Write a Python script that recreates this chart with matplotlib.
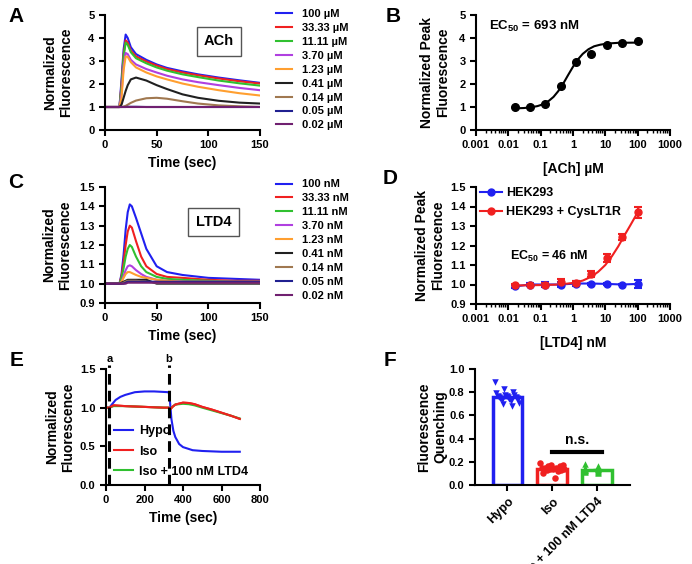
import numpy as np
import matplotlib
matplotlib.use("Agg")
import matplotlib.pyplot as plt
from matplotlib.ticker import LogLocator, FixedFormatter

plt.rcParams['font.family'] = ['Liberation Sans', 'DejaVu Sans']
plt.rcParams['font.weight'] = 'bold'
plt.rcParams['axes.labelweight'] = 'bold'
plt.rcParams['mathtext.fontset'] = 'custom'
plt.rcParams['mathtext.rm'] = 'Liberation Sans:bold'
plt.rcParams['mathtext.bf'] = 'Liberation Sans:bold'
plt.rcParams['axes.linewidth'] = 1.5

# ---- data ----
trace_colors = ['#2020f0', '#f02020', '#30c030', '#b040e0', '#ff9f30',
                '#202020', '#a07850', '#202090', '#702070']

# Panel A: ACh traces
ach_time = [0, 14, 16, 18, 20, 22, 25, 30, 40, 50, 60, 75, 90, 110, 130, 150]
ach_traces = [
    [1, 1, 2.2, 3.5, 4.15, 4.0, 3.6, 3.3, 3.05, 2.85, 2.7, 2.55, 2.42, 2.28, 2.16, 2.05],
    [1, 1, 2.0, 3.3, 3.9, 3.8, 3.45, 3.2, 2.98, 2.8, 2.65, 2.5, 2.38, 2.24, 2.12, 2.02],
    [1, 1, 1.9, 3.2, 3.8, 3.7, 3.38, 3.12, 2.9, 2.72, 2.58, 2.42, 2.3, 2.15, 2.03, 1.93],
    [1, 1, 1.6, 2.8, 3.35, 3.3, 3.05, 2.85, 2.65, 2.5, 2.36, 2.2, 2.08, 1.95, 1.83, 1.73],
    [1, 1, 1.4, 2.6, 3.2, 3.18, 2.95, 2.72, 2.5, 2.33, 2.2, 2.02, 1.88, 1.73, 1.6, 1.5],
    [1, 1, 1.1, 1.4, 1.7, 1.95, 2.2, 2.28, 2.15, 1.95, 1.78, 1.55, 1.4, 1.27, 1.19, 1.15],
    [1, 1, 1, 1.02, 1.05, 1.1, 1.18, 1.28, 1.38, 1.4, 1.36, 1.25, 1.15, 1.07, 1.03, 1.0],
    [1, 1, 1, 1.0, 1.0, 1.01, 1.01, 1.01, 1.0, 1.0, 1.0, 1.0, 1.0, 1.0, 1.0, 1.0],
    [1, 1, 1, 1.0, 1.0, 1.0, 1.0, 1.0, 1.0, 1.0, 1.0, 1.0, 1.0, 1.0, 1.0, 1.0],
]
ach_labels = ['100 µM', '33.33 µM', '11.11 µM', '3.70 µM', '1.23 µM',
              '0.41 µM', '0.14 µM', '0.05 µM', '0.02 µM']

# Panel B: ACh dose response
ach_conc = [0.0161, 0.046, 0.137, 0.412, 1.23, 3.70, 11.11, 33.33, 100]
ach_peak = [1.01, 1.0, 1.11, 1.91, 2.96, 3.29, 3.68, 3.8, 3.87]
ach_fit_x = [0.015, 0.03, 0.05, 0.08, 0.12, 0.18, 0.25, 0.35, 0.5, 0.7,
             1.0, 1.4, 2.0, 3.0, 4.5, 7, 12, 25, 50, 100]
ach_fit_y = [0.94, 0.955, 0.985, 1.04, 1.12, 1.27, 1.44, 1.69, 2.02, 2.38,
             2.75, 3.06, 3.31, 3.51, 3.64, 3.71, 3.76, 3.79, 3.795, 3.8]

# Panel C: LTD4 traces
ltd4_time = [0, 14, 16, 18, 20, 22, 24, 26, 30, 35, 40, 50, 60, 75, 100, 125, 150]
ltd4_traces = [
    [1, 1, 1.05, 1.15, 1.28, 1.37, 1.41, 1.40, 1.34, 1.26, 1.18, 1.09, 1.06, 1.045, 1.03, 1.025, 1.02],
    [1, 1, 1.04, 1.11, 1.2, 1.27, 1.30, 1.29, 1.22, 1.14, 1.09, 1.05, 1.035, 1.03, 1.02, 1.015, 1.015],
    [1, 1, 1.03, 1.08, 1.14, 1.18, 1.20, 1.19, 1.14, 1.09, 1.06, 1.035, 1.025, 1.02, 1.015, 1.01, 1.01],
    [1, 1, 1.01, 1.04, 1.07, 1.09, 1.095, 1.09, 1.07, 1.05, 1.035, 1.02, 1.015, 1.01, 1.01, 1.01, 1.01],
    [1, 1, 1.01, 1.03, 1.05, 1.06, 1.06, 1.055, 1.045, 1.035, 1.03, 1.02, 1.015, 1.01, 1.01, 1.01, 1.01],
    [1, 1, 1.005, 1.01, 1.015, 1.02, 1.02, 1.02, 1.02, 1.02, 1.02, 1.0, 1.0, 1.0, 1.0, 1.0, 1.0],
    [1, 1, 1.0, 1.005, 1.01, 1.015, 1.015, 1.015, 1.015, 1.012, 1.01, 1.005, 1.005, 1.005, 1.005, 1.005, 1.005],
    [1, 1, 1.0, 1.0, 1.005, 1.01, 1.01, 1.01, 1.01, 1.01, 1.01, 1.01, 1.01, 1.01, 1.01, 1.01, 1.01],
    [1, 1, 1.0, 1.0, 1.0, 1.005, 1.005, 1.005, 1.005, 1.005, 1.005, 1.005, 1.005, 1.005, 1.005, 1.005, 1.005],
]
ltd4_labels = ['100 nM', '33.33 nM', '11.11 nM', '3.70 nM', '1.23 nM',
               '0.41 nM', '0.14 nM', '0.05 nM', '0.02 nM']

# Panel D: LTD4 dose response
ltd4_conc = [0.0161, 0.046, 0.137, 0.412, 1.23, 3.70, 11.11, 33.33, 100]
hek_peak = [0.99, 1.0, 1.0, 1.0, 1.005, 1.005, 1.003, 1.0, 1.003]
hek_err = [0.01, 0.01, 0.015, 0.015, 0.015, 0.005, 0.005, 0.005, 0.02]
cys_peak = [1.0, 1.0, 1.0, 1.012, 1.01, 1.053, 1.137, 1.243, 1.37]
cys_err = [0.005, 0.005, 0.01, 0.015, 0.01, 0.015, 0.02, 0.015, 0.03]
cys_fit_x = [0.015, 0.1, 0.4, 1, 2, 3.7, 6, 10, 16, 25, 40, 60, 100]
cys_fit_y = [0.995, 0.997, 1.0, 1.008, 1.02, 1.04, 1.065, 1.1, 1.145, 1.195, 1.255, 1.305, 1.37]

# Panel E: volume traces
hypo_time = [0, 17, 30, 50, 75, 100, 150, 200, 250, 325, 330, 335, 340, 350, 360,
             380, 400, 450, 500, 600, 695]
hypo_vals = [1.0, 1.0, 1.04, 1.1, 1.14, 1.165, 1.2, 1.21, 1.21, 1.2, 1.15, 1.0, 0.85,
             0.7, 0.62, 0.53, 0.49, 0.45, 0.44, 0.43, 0.43]
iso_time = [0, 17, 40, 100, 200, 300, 325, 335, 345, 360, 400, 430, 460, 500, 550,
            600, 650, 695]
iso_vals = [1.0, 1.0, 1.03, 1.02, 1.01, 1.0, 1.0, 0.98, 1.01, 1.04, 1.065, 1.06, 1.045,
            1.01, 0.975, 0.935, 0.895, 0.855]
iso_ltd4_vals = [1.0, 1.0, 1.02, 1.02, 1.01, 1.0, 1.0, 0.99, 1.01, 1.04, 1.05, 1.045,
                 1.03, 1.0, 0.965, 0.93, 0.895, 0.86]
mark_times = [17, 327]
mark_labels = ['a', 'b']

# Panel F: quenching
groups = ['Hypo', 'Iso', 'Iso + 100 nM LTD4']
hypo_q = [0.89, 0.83, 0.80, 0.79, 0.78, 0.78, 0.77, 0.77, 0.76, 0.76, 0.76, 0.75,
          0.75, 0.74, 0.74, 0.73, 0.72, 0.71, 0.70, 0.68]
iso_q = [0.19, 0.17, 0.17, 0.16, 0.16, 0.15, 0.15, 0.15, 0.14, 0.14, 0.14, 0.13,
         0.13, 0.12, 0.10, 0.06]
iso_ltd4_q = [0.18, 0.16, 0.15, 0.14, 0.14, 0.14, 0.13, 0.13, 0.13, 0.12, 0.12,
              0.11, 0.11, 0.10]
group_colors = ['#2020f0', '#f02020', '#30c030']
group_markers = ['v', 'o', '^']

# ---- figure ----
W, H = 692, 564
fig = plt.figure(figsize=(W / 100, H / 100), dpi=100)


def px_axes(left, top, right, bottom):
    return fig.add_axes([left / W, 1 - bottom / H, (right - left) / W, (bottom - top) / H])


def style(ax):
    ax.spines['top'].set_visible(False)
    ax.spines['right'].set_visible(False)
    ax.tick_params(width=1.5, length=4, labelsize=8)
    ax.tick_params(which='minor', width=1.0, length=2.5)


def panel_letter(x, y, s):
    fig.text(x / W, 1 - y / H, s, fontsize=15, fontweight='bold', ha='center', va='center')


trace_legend = dict(loc='upper left', frameon=False, fontsize=8, handlelength=1.45,
                    handletextpad=0.9, labelspacing=0.35, borderpad=0, borderaxespad=0)

# A
axA = px_axes(105, 15, 260, 130)
style(axA)
for vals, c, lab in zip(ach_traces, trace_colors, ach_labels):
    axA.plot(ach_time, vals, color=c, lw=1.5, label=lab)
axA.set_xlim(0, 150)
axA.set_ylim(0, 5)
axA.set_xticks([0, 50, 100, 150])
axA.set_yticks([0, 1, 2, 3, 4, 5])
axA.set_xlabel('Time (sec)', fontsize=10)
axA.set_ylabel('Normalized\nFluorescence', fontsize=10)
axA.yaxis.set_label_coords(-0.206, 0.5)
axA.text(0.735, 0.77, 'ACh', transform=axA.transAxes, fontsize=10.5, ha='center', va='center',
         bbox=dict(boxstyle='square,pad=0.5', fc='white', ec='#555555', lw=1))
axA.legend(bbox_to_anchor=(1.103, 1.05), **trace_legend)

# B
axB = px_axes(476, 15, 670, 130)
style(axB)
axB.plot(ach_fit_x, ach_fit_y, color='black', lw=1.5)
axB.plot(ach_conc, ach_peak, 'o', color='black', ms=5.5)
axB.set_xscale('log')
axB.set_xlim(0.001, 1000)
axB.set_ylim(0, 5)
axB.set_xticks([0.001, 0.01, 0.1, 1, 10, 100, 1000])
axB.xaxis.set_major_formatter(FixedFormatter(['0.001', '0.01', '0.1', '1', '10', '100', '1000']))
axB.xaxis.set_minor_locator(LogLocator(base=10, subs=np.arange(2, 10)))
axB.set_yticks([0, 1, 2, 3, 4, 5])
axB.set_xlabel('[ACh] µM', fontsize=10, labelpad=8)
axB.set_ylabel('Normalized Peak\nFluorescence', fontsize=10)
axB.yaxis.set_label_coords(-0.134, 0.5)
axB.text(0.067, 0.9, r'EC$_{50}$ = 693 nM', transform=axB.transAxes, fontsize=9.5, va='center')

# C
axC = px_axes(105, 187, 260, 303)
style(axC)
for vals, c, lab in zip(ltd4_traces, trace_colors, ltd4_labels):
    axC.plot(ltd4_time, vals, color=c, lw=1.5, label=lab)
axC.set_xlim(0, 150)
axC.set_ylim(0.9, 1.5)
axC.set_xticks([0, 50, 100, 150])
axC.set_yticks([0.9, 1.0, 1.1, 1.2, 1.3, 1.4, 1.5])
axC.set_xlabel('Time (sec)', fontsize=10)
axC.set_ylabel('Normalized\nFluorescence', fontsize=10)
axC.yaxis.set_label_coords(-0.213, 0.5)
axC.text(0.70, 0.70, 'LTD4', transform=axC.transAxes, fontsize=10.5, ha='center', va='center',
         bbox=dict(boxstyle='square,pad=0.5', fc='white', ec='#555555', lw=1))
axC.legend(bbox_to_anchor=(1.103, 1.065), **trace_legend)

# D
axD = px_axes(476, 187, 670, 304)
style(axD)
axD.plot(ltd4_conc, hek_peak, color='#2020f0', lw=1.5)
axD.plot(cys_fit_x, cys_fit_y, color='#f02020', lw=1.5)
axD.errorbar(ltd4_conc, hek_peak, yerr=hek_err, fmt='o', color='#2020f0', ms=5,
             capsize=3, elinewidth=1.5, capthick=1.5)
axD.errorbar(ltd4_conc, cys_peak, yerr=cys_err, fmt='o', color='#f02020', ms=5,
             capsize=3, elinewidth=1.5, capthick=1.5)
axD.plot([], [], '-o', color='#2020f0', ms=5, lw=1.5, label='HEK293')
axD.plot([], [], '-o', color='#f02020', ms=5, lw=1.5, label='HEK293 + CysLT1R')
axD.set_xscale('log')
axD.set_xlim(0.001, 1000)
axD.set_ylim(0.9, 1.5)
axD.set_xticks([0.001, 0.01, 0.1, 1, 10, 100, 1000])
axD.xaxis.set_major_formatter(FixedFormatter(['0.001', '0.01', '0.1', '1', '10', '100', '1000']))
axD.xaxis.set_minor_locator(LogLocator(base=10, subs=np.arange(2, 10)))
axD.set_yticks([0.9, 1.0, 1.1, 1.2, 1.3, 1.4, 1.5])
axD.set_xlabel('[LTD4] nM', fontsize=10, labelpad=8)
axD.set_ylabel('Normalized Peak\nFluorescence', fontsize=10)
axD.yaxis.set_label_coords(-0.16, 0.5)
axD.text(0.175, 0.41, r'EC$_{50}$ = 46 nM', transform=axD.transAxes, fontsize=9, va='center')
axD.legend(loc='upper left', bbox_to_anchor=(0.02, 1.0), frameon=False, fontsize=9,
           handlelength=1.8, handletextpad=0.3, labelspacing=0.55, borderpad=0,
           borderaxespad=0)

# E
axE = px_axes(106, 369, 260, 485)
style(axE)
axE.plot(hypo_time, hypo_vals, color='#2020f0', lw=1.5, label='Hypo')
axE.plot(iso_time, iso_vals, color='#f02020', lw=1.5, label='Iso')
axE.plot(iso_time, iso_ltd4_vals, color='#30c030', lw=1.5, label='Iso + 100 nM LTD4')
axE.plot(iso_time, iso_vals, color='#f02020', lw=1.5)
for t, lab in zip(mark_times, mark_labels):
    axE.plot([t, t], [0, 1.55], color='black', lw=2.2, ls=(0, (3.5, 2)), clip_on=False)
    axE.text(t, 1.56, lab, fontsize=8, ha='center', va='bottom')
axE.set_xlim(0, 800)
axE.set_ylim(0, 1.5)
axE.set_xticks([0, 200, 400, 600, 800])
axE.set_yticks([0.0, 0.5, 1.0, 1.5])
axE.set_xlabel('Time (sec)', fontsize=10)
axE.set_ylabel('Normalized\nFluorescence', fontsize=10)
axE.yaxis.set_label_coords(-0.20, 0.5)
axE.legend(loc='upper left', bbox_to_anchor=(0.052, 0.513), frameon=False, fontsize=9,
           handlelength=1.5, handletextpad=0.5, labelspacing=0.65, borderpad=0,
           borderaxespad=0)

# F
axF = px_axes(475, 369, 630, 485)
style(axF)
for i, (vals, c, m) in enumerate(zip([hypo_q, iso_q, iso_ltd4_q], group_colors, group_markers)):
    mean = np.mean(vals)
    sem = np.std(vals) / np.sqrt(len(vals))
    axF.bar(i, mean, width=0.66, facecolor='white', edgecolor=c, lw=2.5, zorder=1)
    n = len(vals)
    offs = np.linspace(-0.27, 0.27, n)[(np.arange(n) * 7) % n]
    axF.scatter(i + offs, vals, marker=m, color=c, s=22, zorder=3, linewidths=0)
    axF.errorbar(i, mean, yerr=sem, color=c, capsize=3, lw=1.5, zorder=4)
axF.plot([1.0, 2.1], [0.287, 0.287], color='black', lw=3)
axF.text(1.55, 0.33, 'n.s.', fontsize=10, ha='center', va='bottom')
axF.set_xlim(-0.72, 2.73)
axF.set_ylim(0, 1.0)
axF.set_yticks([0.0, 0.2, 0.4, 0.6, 0.8, 1.0])
axF.set_yticklabels(['0.0', '0.2', '0.4', '0.6', '0.8', '1.0'])
axF.set_xticks([0, 1, 2])
axF.set_xticklabels(groups, rotation=45, ha='right', rotation_mode='anchor', fontsize=9)
axF.set_ylabel('Fluorescence\nQuenching', fontsize=10)
axF.yaxis.set_label_coords(-0.18, 0.5)

panel_letter(16, 17, 'A')
panel_letter(393, 16, 'B')
panel_letter(16, 182, 'C')
panel_letter(390, 178, 'D')
panel_letter(17, 360, 'E')
panel_letter(390, 361, 'F')

fig.savefig('out.png', dpi=100)
